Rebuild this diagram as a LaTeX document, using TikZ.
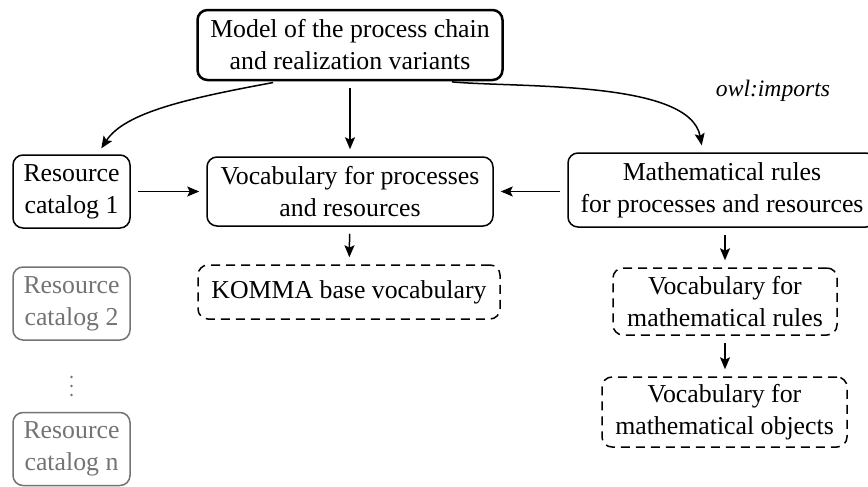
\documentclass[tikz,border=0pt]{standalone}
\usepackage{fontspec}
\setmainfont{Liberation Serif}
\usetikzlibrary{arrows.meta}
\tikzset{
  box/.style={draw, rounded corners=5pt, line width=0.75pt, align=center,
    inner xsep=4pt, inner ysep=3pt, font=\fontsize{12.9}{16}\selectfont},
  mainbox/.style={box, line width=1.25pt},
  dbox/.style={box, dash pattern=on 4.5pt off 3pt},
  gbox/.style={box, draw=black!55, text=black!55},
  arr/.style={-{Stealth[length=6pt,width=5pt,inset=1.2pt]}, line width=0.75pt,
    shorten >=3.5pt, shorten <=3.5pt},
}
\begin{document}
\begin{tikzpicture}[x=0.5pt, y=-0.5pt]
  \useasboundingbox (0,0) rectangle (868,487);

  % the process chain model and the vocabularies it imports
  \node[mainbox, minimum width=152.5pt, minimum height=35pt] (top) at (350,45)
    {Model of the process chain\\and realization variants};
  \node[box, minimum width=58.5pt, minimum height=36.5pt] (rc1) at (71.5,191.5)
    {Resource\\catalog 1};
  \node[box, minimum width=143pt, minimum height=34.5pt] (vocab) at (350,191.5)
    {Vocabulary for processes\\and resources};
  \node[box, minimum width=154pt, minimum height=37pt] (math) at (722,190)
    {Mathematical rules\\for processes and resources};

  % further resource catalogs
  \node[gbox, minimum width=58.5pt, minimum height=36.5pt] (rc2) at (71.5,303.5)
    {Resource\\catalog 2};
  \foreach \yy in {377,386,395} \fill[black!55] (71.5,\yy) circle (0.7pt);
  \node[gbox, minimum width=58.5pt, minimum height=36.5pt] (rcn) at (71.5,449)
    {Resource\\catalog n};

  % base vocabularies
  \node[dbox, minimum width=151pt, minimum height=27pt] (komma) at (349,292)
    {KOMMA base vocabulary};
  \node[dbox, minimum width=112pt, minimum height=33.5pt] (vmr) at (725,301.5)
    {Vocabulary for\\mathematical rules};
  \node[dbox, minimum width=122.5pt, minimum height=35pt] (vmo) at (724.5,412)
    {Vocabulary for\\mathematical objects};

  \node[font=\fontsize{11.8}{14}\selectfont\itshape] (owl) at (773,91) {owl:imports};

  % imports
  \draw[arr] ([xshift=-35pt]top.south) .. controls (190,98) and (125,112) .. ([xshift=13pt]rc1.north);
  \draw[arr] (top) -- (vocab);
  \draw[arr] ([xshift=47.5pt]top.south) .. controls (520,88) and (690,80) .. ([xshift=-9.5pt]math.north);
  \draw[arr] (rc1) -- (vocab);
  \draw[arr] (math.west |- vocab) -- (vocab);
  \draw[arr] (vocab) -- (komma);
  \draw[arr] (math.south -| vmr) -- (vmr);
  \draw[arr] (vmr) -- (vmr |- vmo.north);
\end{tikzpicture}
\end{document}
